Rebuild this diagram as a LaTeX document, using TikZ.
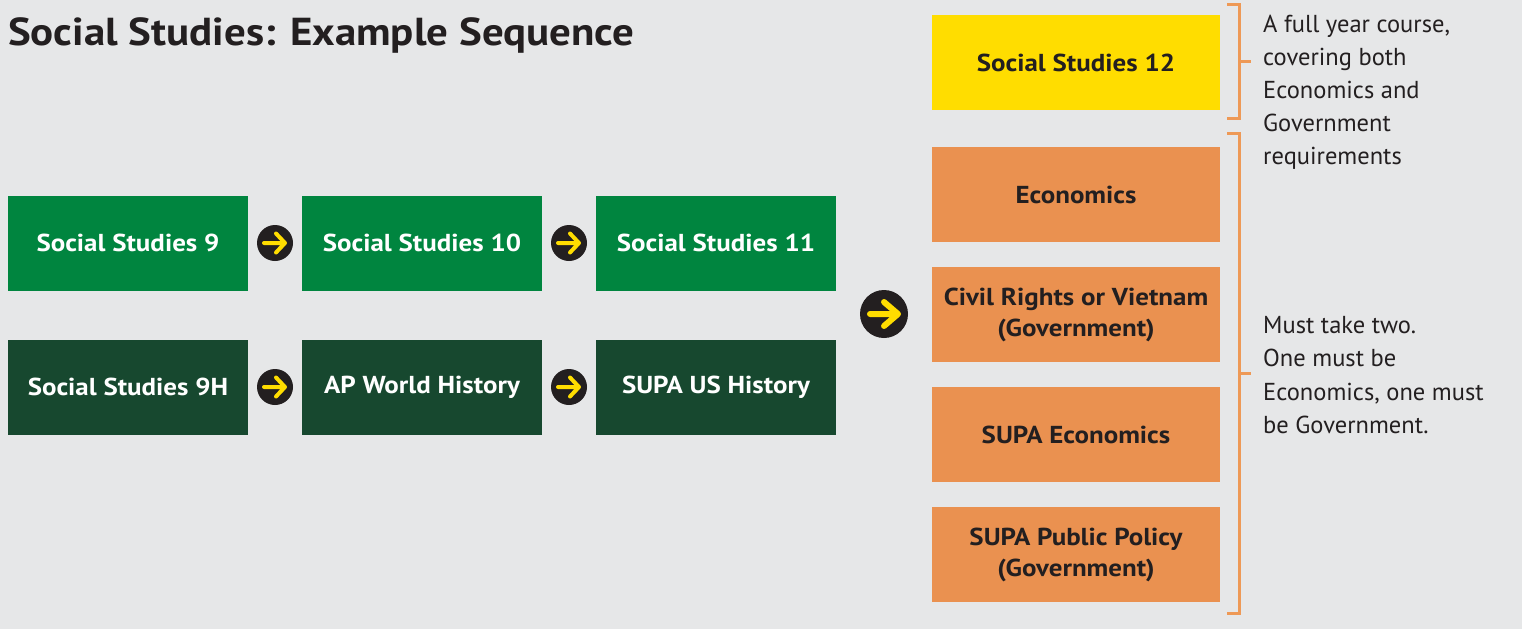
\documentclass[tikz,border=0pt]{standalone}
\usepackage{fontspec}
\setmainfont{PT Sans}
\newfontfamily\widefont{PT Sans}[FakeStretch=1.1]
\definecolor{bg}{HTML}{E6E7E8}
\definecolor{sgreen}{HTML}{00853F}
\definecolor{dgreen}{HTML}{17482F}
\definecolor{syellow}{HTML}{FFDD00}
\definecolor{sorange}{HTML}{EA9150}
\definecolor{borange}{HTML}{EE9956}
\definecolor{ink}{HTML}{231F20}
\tikzset{
  course/.style={minimum width=240pt, minimum height=95pt, inner sep=0pt, font=\widefont\fontsize{24.5}{31}\selectfont\bfseries, align=center},
  gbox/.style={course, fill=sgreen, text=white},
  dbox/.style={course, fill=dgreen, text=white},
  ybox/.style={course, minimum width=288pt, fill=syellow, text=ink},
  obox/.style={course, minimum width=288pt, fill=sorange, text=ink},
  smallarrow/.style={circle, fill=ink, minimum size=36pt, inner sep=0pt},
  bigarrow/.style={circle, fill=ink, minimum size=48pt, inner sep=0pt},
  bracket/.style={draw=borange, line width=3pt},
  note/.style={anchor=base west, inner sep=0pt, text=ink, font=\fontsize{24.5}{33}\selectfont},
}
\begin{document}
\begin{tikzpicture}[x=1pt,y=-1pt]
\fill[bg] (0,0) rectangle (1522,629);
\useasboundingbox (0,0) rectangle (1522,629);

\node[anchor=base west, inner sep=0pt, text=ink, font=\widefont\fontsize{39}{42}\selectfont\bfseries] (title) at (8,45) {Social Studies: Example Sequence};

% row 1
\node[gbox] (ss9) at (128,243) {Social Studies 9};
\node[gbox] (ss10) at (422,243) {Social Studies 10};
\node[gbox] (ss11) at (716,243) {Social Studies 11};
% row 2
\node[dbox] (ss9h) at (128,387) {Social Studies 9H};
\node[dbox] (apwh) at (422,387) {AP World History};
\node[dbox] (supaus) at (716,387) {SUPA US History};

% right column
\node[ybox] (ss12) at (1076,62.5) {Social Studies 12};
\node[obox] (econ) at (1076,194.5) {Economics};
\node[obox] (civil) at (1076,314.5) {Civil Rights or Vietnam\\(Government)};
\node[obox] (supaecon) at (1076,434.5) {SUPA Economics};
\node[obox] (supapp) at (1076,554.5) {SUPA Public Policy\\(Government)};

% arrow circles
\foreach \n/\x/\y in {a1/275/243, a2/569/243, a3/275/387, a4/569/387}{
  \node[smallarrow] (\n) at (\x,\y) {};
  \draw[syellow, line width=4pt, line cap=round, line join=round]
    ([xshift=-11pt]\n.center) -- ([xshift=10pt]\n.center)
    ([xshift=1pt,yshift=-9.5pt]\n.center) -- ([xshift=10pt]\n.center) -- ([xshift=1pt,yshift=9.5pt]\n.center);
}
\node[bigarrow] (big) at (884,314) {};
\draw[syellow, line width=6pt, line cap=round, line join=round]
  ([xshift=-14pt]big.center) -- ([xshift=14pt]big.center)
  ([xshift=0pt,yshift=-12pt]big.center) -- ([xshift=14pt]big.center) -- ([xshift=0pt,yshift=12pt]big.center);

% brackets
\coordinate (b1t) at (1227,4);
\coordinate (b1b) at (1227,118);
\coordinate (b1m) at (1251,61);
\draw[bracket] (b1t) -| (1239,118) -- (b1b);
\draw[bracket] (1239,61) -- (b1m);
\coordinate (b2t) at (1227,133);
\coordinate (b2b) at (1227,613);
\coordinate (b2m) at (1251,373);
\draw[bracket] (b2t) -| (1239,613) -- (b2b);
\draw[bracket] (1239,373) -- (b2m);

% notes
\node[note] (n1) at (1263,32) {A full year course,};
\node[note] (n2) at (1263,65) {covering both};
\node[note] (n3) at (1263,98) {Economics and};
\node[note] (n4) at (1263,131) {Government};
\node[note] (n5) at (1263,164) {requirements};
\node[note] (m1) at (1263,333) {Must take two.};
\node[note] (m2) at (1263,366.5) {One must be};
\node[note] (m3) at (1263,400) {Economics, one must};
\node[note] (m4) at (1263,433.5) {be Government.};
\end{tikzpicture}
\end{document}
